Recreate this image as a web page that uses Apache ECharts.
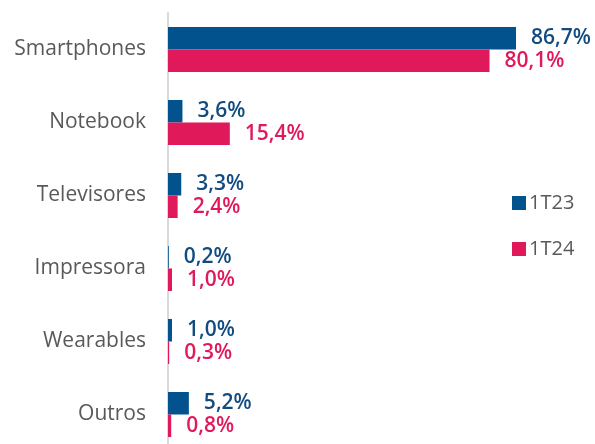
<!DOCTYPE html>
<html>
<head>
<meta charset="utf-8">
<script src="https://cdn.jsdelivr.net/npm/echarts@6/dist/echarts.min.js"></script>
<style>
  html, body { margin: 0; padding: 0; background: #fff; }
  #chart { width: 595px; height: 444px; }
</style>
</head>
<body>
<div id="chart"></div>
<script>
// Share by product category, two quarters
const categories = ['Smartphones', 'Notebook', 'Televisores', 'Impressora', 'Wearables', 'Outros'];
const seriesNames = ['1T23', '1T24'];
const values1T23 = [86.7, 3.6, 3.3, 0.2, 1.0, 5.2];
const values1T24 = [80.1, 15.4, 2.4, 1.0, 0.3, 0.8];

const BLUE = '#02538d';
const BLUE_TEXT = '#124b80';
const RED = '#e0195a';
const FONT = '"Open Sans", "Noto Sans", sans-serif';

const fmt = p => p.value.toFixed(1).replace('.', ',') + '%';

const chart = echarts.init(document.getElementById('chart'), null, { renderer: 'canvas' });

function barSeries(name, data, color, textColor) {
  return {
    name: name,
    type: 'bar',
    data: data,
    barWidth: 22.5,
    barGap: '0%',
    itemStyle: { color: color },
    label: {
      show: true,
      position: 'right',
      distance: 15,
      formatter: fmt,
      color: textColor,
      fontFamily: FONT,
      fontSize: 21,
      fontWeight: 600
    }
  };
}

chart.setOption({
  animation: false,
  backgroundColor: '#ffffff',
  grid: {
    left: 168, right: 25.6, top: 13, bottom: -7,
    outerBoundsMode: 'none',
    containLabel: false
  },
  legend: {
    orient: 'vertical',
    left: 507,
    top: 188,
    itemWidth: 14,
    itemHeight: 14,
    itemGap: 26,
    icon: 'rect',
    textStyle: { color: '#595959', fontFamily: FONT, fontSize: 20, padding: [0, 0, 0, -2] },
    data: seriesNames
  },
  xAxis: {
    type: 'value',
    min: 0,
    max: 100,
    show: false
  },
  yAxis: {
    type: 'category',
    data: categories,
    inverse: true,
    axisLine: { show: true, lineStyle: { color: '#d9d9d9', width: 2 } },
    axisTick: { show: false },
    axisLabel: {
      margin: 22,
      color: '#595959',
      fontFamily: FONT,
      fontSize: 21
    }
  },
  series: [
    barSeries(seriesNames[0], values1T23, BLUE, BLUE_TEXT),
    barSeries(seriesNames[1], values1T24, RED, RED)
  ]
});
</script>
</body>
</html>
